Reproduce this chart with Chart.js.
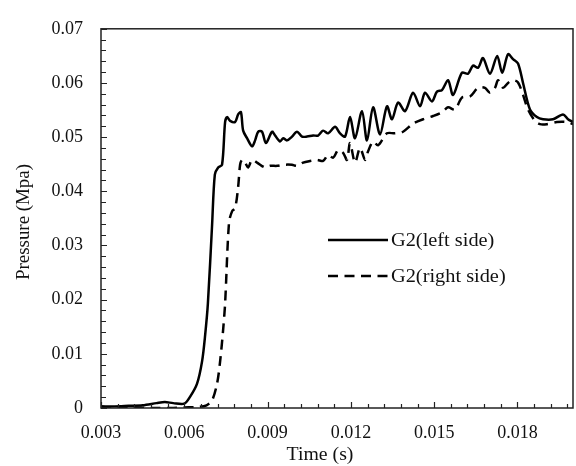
<!DOCTYPE html>
<html>
<head>
<meta charset="utf-8">
<script src="https://cdn.jsdelivr.net/npm/chart.js@4"></script>
<style>
  html, body { margin: 0; padding: 0; background: #fff; }
  #wrap { width: 576px; height: 466px; }
</style>
</head>
<body>
<div id="wrap"><canvas id="pressure-chart" width="576" height="466"></canvas></div>
<script>
// values
const leftTime = [0.003, 0.0035, 0.004, 0.0045, 0.005, 0.0053, 0.0056, 0.006, 0.0062, 0.00646, 0.00664, 0.00675, 0.00685,
  0.0070, 0.0071, 0.00722, 0.00736, 0.00747, 0.00754, 0.00765, 0.00783, 0.00794, 0.00804, 0.00812, 0.00826, 0.00844,
  0.00855, 0.00866, 0.0088, 0.00894, 0.00916, 0.00927, 0.00945, 0.00956, 0.0097, 0.00988, 0.01006, 0.01024, 0.01042,
  0.01064, 0.01082, 0.011, 0.01118, 0.01143, 0.01161, 0.01179, 0.01197, 0.01215, 0.0124, 0.01258, 0.0128, 0.01305,
  0.0133, 0.01348, 0.0137, 0.01395, 0.01424, 0.01449, 0.01467, 0.01492, 0.0151, 0.01528, 0.0155, 0.01568, 0.016,
  0.01622, 0.0164, 0.01658, 0.01676, 0.01701, 0.01727, 0.01745, 0.01766, 0.01784, 0.01802, 0.0182, 0.01845, 0.0187,
  0.01892, 0.01928, 0.01964, 0.01982, 0.02];
const leftPressure = [0.0003, 0.0003, 0.0004, 0.0005, 0.0009, 0.0011, 0.0009, 0.0008, 0.002, 0.0045, 0.0086, 0.0134, 0.0193,
  0.0337, 0.0431, 0.0444, 0.0449, 0.0528, 0.0537, 0.053, 0.0528, 0.0542, 0.0546, 0.0512, 0.0498, 0.0483,
  0.0494, 0.051, 0.051, 0.0489, 0.051, 0.0503, 0.0492, 0.0498, 0.0494, 0.0501, 0.051, 0.0501, 0.0501,
  0.0503, 0.0503, 0.0512, 0.0507, 0.0519, 0.0507, 0.0501, 0.0537, 0.0498, 0.0548, 0.0494, 0.0555, 0.0505,
  0.0557, 0.0533, 0.0564, 0.0548, 0.0582, 0.0557, 0.0582, 0.0566, 0.0584, 0.0587, 0.0605, 0.0578, 0.0619,
  0.0617, 0.0632, 0.0628, 0.0646, 0.0617, 0.065, 0.0619, 0.0653, 0.0644, 0.0636, 0.06, 0.0551, 0.0537,
  0.0533, 0.0533, 0.0542, 0.0533, 0.0528];

const rightTime = [0.003, 0.004, 0.005, 0.0055, 0.006, 0.0065, 0.0068, 0.0070, 0.00718, 0.00729, 0.0074, 0.00747,
  0.00761, 0.00772, 0.00783, 0.00794, 0.00801, 0.00808, 0.00819, 0.0083, 0.00844, 0.00862, 0.00891, 0.00909,
  0.00934, 0.00956, 0.00988, 0.01006, 0.01028, 0.01053, 0.01078, 0.011, 0.01118, 0.01136, 0.01154, 0.01172,
  0.01186, 0.01197, 0.01215, 0.01233, 0.01251, 0.01262, 0.0128, 0.01298, 0.0133, 0.01359, 0.01388, 0.01424,
  0.0146, 0.01496, 0.01528, 0.0155, 0.01575, 0.016, 0.01629, 0.01658, 0.01683, 0.01701, 0.01719, 0.0173,
  0.01748, 0.01766, 0.01784, 0.01802, 0.0182, 0.01838, 0.01863, 0.01881, 0.01906, 0.01942, 0.01978, 0.02];
const rightPressure = [0.0001, 0.0001, 0.0, 0.0, 0.0001, 0.0002, 0.0005, 0.0014, 0.0045, 0.0086, 0.0145, 0.0193,
  0.0342, 0.0363, 0.0369, 0.0408, 0.0449, 0.0458, 0.0453, 0.0444, 0.0458, 0.0453, 0.0444, 0.0447,
  0.0447, 0.0449, 0.0449, 0.0447, 0.0453, 0.0456, 0.0458, 0.0456, 0.0467, 0.0462, 0.0476, 0.0471,
  0.0458, 0.0489, 0.0453, 0.048, 0.0458, 0.0474, 0.0492, 0.0485, 0.0507, 0.0507, 0.051, 0.0525,
  0.0533, 0.0539, 0.0546, 0.0555, 0.0551, 0.0573, 0.0575, 0.0591, 0.0591, 0.0582, 0.0591, 0.0605,
  0.0591, 0.06, 0.0605, 0.0601, 0.0578, 0.0551, 0.053, 0.0524, 0.0524, 0.0528, 0.0528, 0.0524];

const seriesNames = ['G2(left side)', 'G2(right side)'];
const xTicks = [0.003, 0.006, 0.009, 0.012, 0.015, 0.018];
const yTicks = [0, 0.01, 0.02, 0.03, 0.04, 0.05, 0.06, 0.07];

const FONT = '"Liberation Serif", "Times New Roman", serif';

function toPoints(xs, ys) {
    return xs.map((x, i) => ({ x: x, y: ys[i] }))
}

// the source text is a bit wider than Times, so stretch it sideways a little
function wideText(ctx, text, x, y, align, stretch) {
    ctx.save();
    ctx.translate(x, y);
    ctx.scale(stretch, 1);
    ctx.textAlign = align;
    ctx.fillText(text, 0, 0);
    ctx.restore();
}

// frame, inward ticks, axis titles and legend
const decorations = {
    id: 'decorations',
    afterDraw(chart) {
        const ctx = chart.ctx;
        const area = chart.chartArea;
        const xs = chart.scales.x;
        const ys = chart.scales.y;
        ctx.save();
        ctx.strokeStyle = '#222';
        ctx.lineWidth = 1.5;
        ctx.strokeRect(area.left, area.top, area.right - area.left, area.bottom - area.top);

        ctx.lineWidth = 1.2;
        ctx.beginPath();
        // x minor ticks every 0.0006, major every 0.003
        for (let i = 0; i <= 28; i++) {
            const v = 0.003 + i * 0.0006;
            if (v > 0.02) break;
            const px = Math.round(xs.getPixelForValue(v)) + 0.5;
            const len = i % 5 === 0 ? 6 : 4;
            ctx.moveTo(px, area.bottom);
            ctx.lineTo(px, area.bottom - len);
        }
        // y minor ticks every 0.002, major every 0.01
        for (let i = 0; i <= 35; i++) {
            const py = Math.round(ys.getPixelForValue(i * 0.002)) + 0.5;
            const len = i % 5 === 0 ? 6 : 5;
            ctx.moveTo(area.left, py);
            ctx.lineTo(area.left + len, py);
        }
        ctx.stroke();

        ctx.fillStyle = '#111';
        ctx.font = '18px ' + FONT;
        ctx.textBaseline = 'middle';

        // x title
        wideText(ctx, 'Time (s)', 320, 455, 'center', 1.1);

        // y title
        ctx.save();
        ctx.translate(24, 222);
        ctx.rotate(-Math.PI / 2);
        wideText(ctx, 'Pressure (Mpa)', 0, 0, 'center', 1.05);
        ctx.restore();

        // legend
        const rows = [240, 276];
        chart.data.datasets.forEach((ds, i) => {
            ctx.strokeStyle = ds.borderColor;
            ctx.lineWidth = ds.borderWidth;
            ctx.setLineDash(ds.borderDash || []);
            ctx.beginPath();
            ctx.moveTo(328, rows[i]);
            ctx.lineTo(388, rows[i]);
            ctx.stroke();
            ctx.setLineDash([]);
            wideText(ctx, ds.label, 391, rows[i] + 1, 'left', 1.13);
        });
        ctx.restore();
    }
};

new Chart(document.querySelector('#pressure-chart').getContext('2d'), {
    type: 'line',
    data: {
        datasets: [{
            label: seriesNames[0],
            data: toPoints(leftTime, leftPressure),
            borderColor: '#000',
            borderWidth: 2.5,
            pointRadius: 0,
            tension: 0.3,
            fill: false
        }, {
            label: seriesNames[1],
            data: toPoints(rightTime, rightPressure),
            borderColor: '#000',
            borderWidth: 2.5,
            borderDash: [10, 6.5],
            pointRadius: 0,
            tension: 0.3,
            fill: false
        }]
    },
    options: {
        responsive: false,
        animation: false,
        layout: { padding: { top: 17, right: 3, bottom: 0, left: 0 } },
        plugins: {
            legend: { display: false },
            tooltip: { enabled: false }
        },
        scales: {
            x: {
                type: 'linear',
                min: 0.003,
                max: 0.02,
                afterBuildTicks: scale => { scale.ticks = xTicks.map(v => ({ value: v })) },
                afterFit: scale => { scale.height = 58 },
                grid: { display: false, drawTicks: false },
                border: { display: false },
                ticks: {
                    padding: 14,
                    color: '#111',
                    font: { family: FONT, size: 18 },
                    maxRotation: 0,
                    autoSkip: false,
                    callback: v => v.toFixed(3)
                }
            },
            y: {
                min: 0,
                max: 0.07,
                afterBuildTicks: scale => { scale.ticks = yTicks.map(v => ({ value: v })) },
                afterFit: scale => { scale.width = 101 },
                grid: { display: false, drawTicks: false },
                border: { display: false },
                ticks: {
                    padding: 18,
                    color: '#111',
                    font: { family: FONT, size: 18 },
                    autoSkip: false,
                    callback: v => v === 0 ? '0' : v.toFixed(2)
                }
            }
        }
    },
    plugins: [decorations]
});
</script>
</body>
</html>
